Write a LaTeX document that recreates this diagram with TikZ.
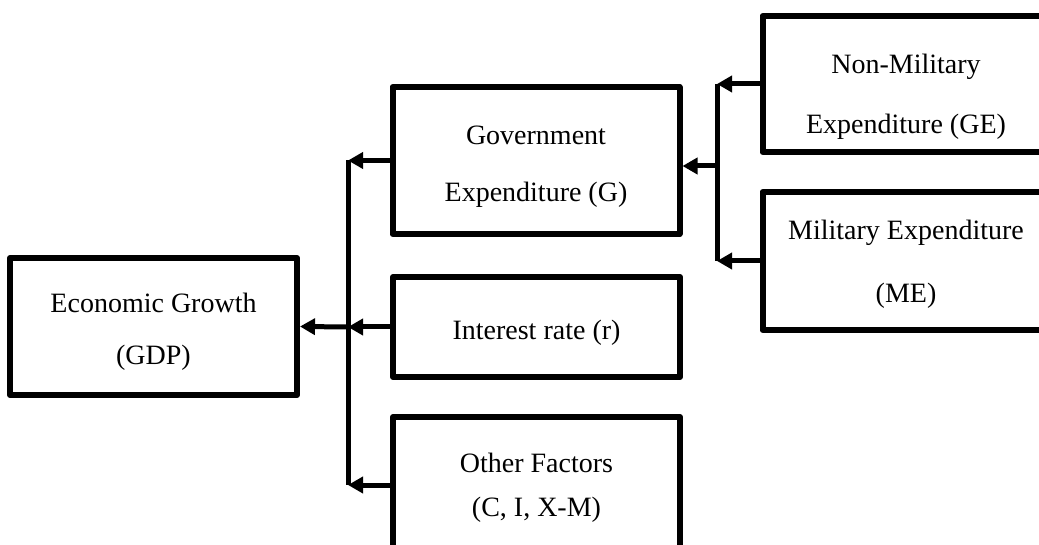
\documentclass[tikz,border=0pt]{standalone}
\usepackage{fontspec}
\setmainfont{Liberation Serif}
\usetikzlibrary{arrows.meta}

\tikzset{
  box/.style={draw, line width=6pt, inner sep=0pt,
    minimum width=287pt, line join=round},
  txt/.style={inner sep=0pt, align=center},
  lines/.style={font=\fontsize{28}{#1}\selectfont},
  wire/.style={line width=5pt},
  feed/.style={line width=5pt, -{Triangle[length=15pt,width=16pt]}},
}

\begin{document}
\begin{tikzpicture}[x=1pt, y=-1pt]
  \useasboundingbox (0,0) rectangle (1039,545);
  \clip (0,0) rectangle (1039,545);

  % boxes
  \node[box, minimum height=137pt] (gdp)    at (153.5,326.5) {};
  \node[box, minimum height=147pt] (gov)    at (536,160.5)   {};
  \node[box, minimum height=100pt] (rate)   at (536.5,327)   {};
  \node[box, minimum height=136pt] (other)  at (536.5,485)   {};
  \node[box, minimum height=136pt] (nonmil) at (906,84)      {};
  \node[box, minimum height=138pt] (mil)    at (906,261)     {};

  % box texts
  \node[txt, lines=52pt, yshift=-5pt]    (gdpT)    at (gdp)    {Economic Growth\\(GDP)};
  \node[txt, lines=57pt, yshift=-6pt]    (govT)    at (gov)    {Government\\Expenditure (G)};
  \node[txt, lines=28pt, yshift=-6pt]    (rateT)   at (rate)   {Interest rate (r)};
  \node[txt, lines=44pt, yshift=-3pt]    (otherT)  at (other)  {Other Factors\\(C, I, X-M)};
  \node[txt, lines=60pt, yshift=-12.5pt] (nonmilT) at (nonmil) {Non-Military\\Expenditure (GE)};
  \node[txt, lines=63pt, yshift=-3pt]    (milT)    at (mil)    {Military Expenditure\\(ME)};

  % collector lines
  \coordinate (busA) at (348,0);
  \coordinate (busB) at (717,0);
  \coordinate (joinB) at (717,166);

  % left collector: G, r and other factors into GDP
  \draw[wire] (gov.west -| busA) -- (other.west -| busA);
  \draw[feed] (gov.west) -- (gov.west -| busA);
  \draw[feed] (rate.west) -- (rate.west -| busA);
  \draw[feed] (other.west) -- (other.west -| busA);
  \draw[feed] (rate.west -| busA) -- (gdp.east);

  % right collector: GE and ME into G
  \draw[wire] (nonmil.west -| busB) -- (mil.west -| busB);
  \draw[feed] (nonmil.west) -- (nonmil.west -| busB);
  \draw[feed] (mil.west) -- (mil.west -| busB);
  \draw[feed] (joinB) -- (joinB -| gov.east);
\end{tikzpicture}
\end{document}
